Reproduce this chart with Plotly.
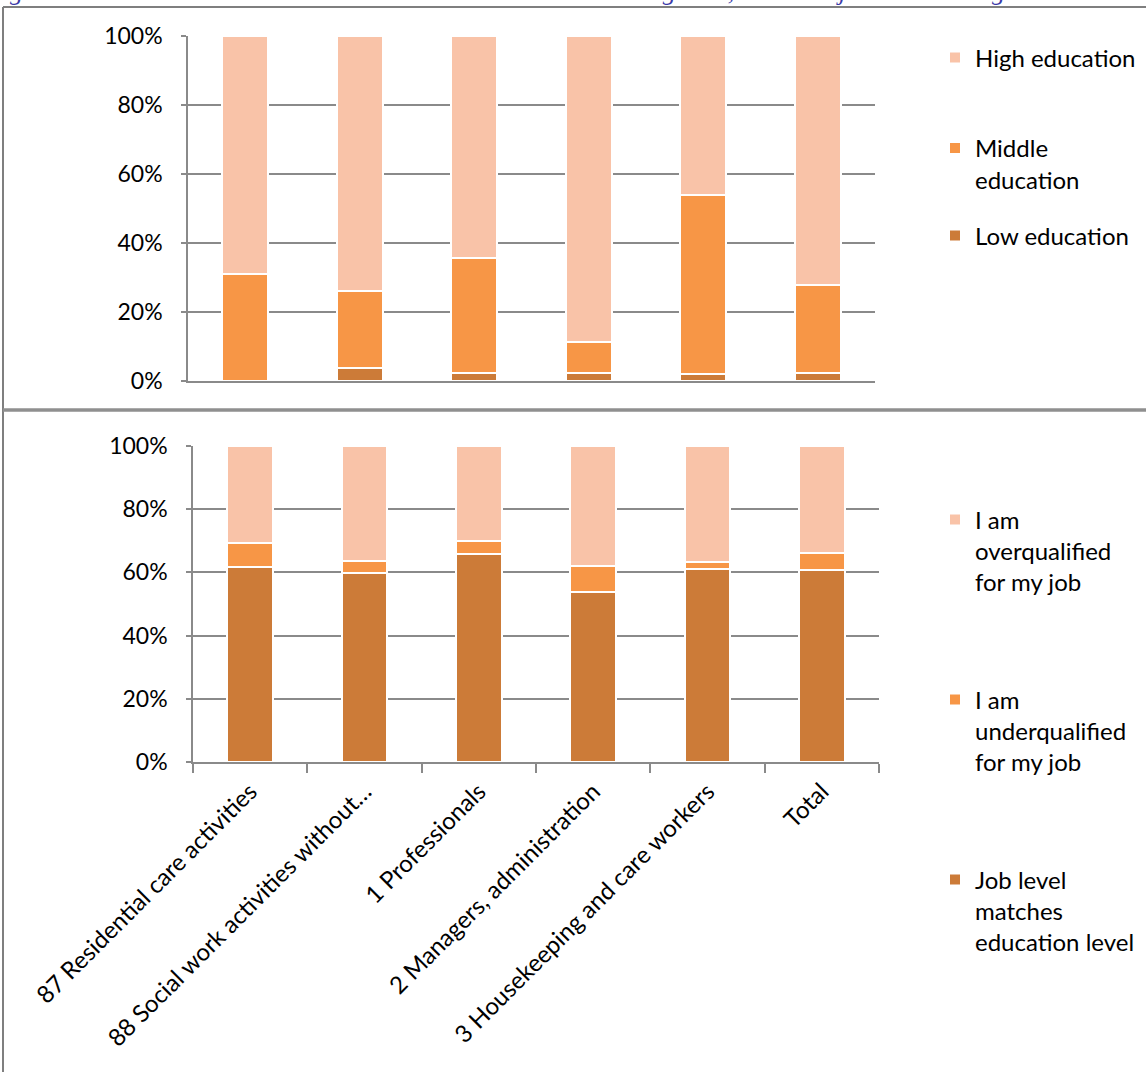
import plotly.graph_objects as go

categories = [
    "87 Residential care activities",
    "88 Social work activities without…",
    "1 Professionals",
    "2 Managers, administration",
    "3 Housekeeping and care workers",
    "Total",
]

# Top panel: education level shares (%)
edu_low = [0.0, 3.7, 2.2, 2.2, 1.9, 2.2]
edu_middle = [30.9, 22.4, 33.4, 9.2, 52.0, 25.7]
edu_high = [69.1, 73.9, 64.4, 88.6, 46.1, 72.1]

# Bottom panel: job match shares (%)
job_match = [61.8, 59.7, 65.9, 53.9, 61.1, 60.7]
job_under = [7.6, 3.8, 4.0, 8.2, 2.3, 5.3]
job_over = [30.6, 36.5, 30.1, 37.9, 36.6, 34.0]

y_tick_vals = [0, 20, 40, 60, 80, 100]
y_tick_text = ["0%", "20%", "40%", "60%", "80%", "100%"]

C_LIGHT = "#F9C3A8"
C_MID = "#F79646"
C_DARK = "#CC7B38"
GRID = "#8A8A8A"
FONT = "Lato"

W, H = 1146, 1073

def px(x):
    return x / W

def py(y):
    return 1 - y / H

fig = go.Figure()

bar_line = dict(color="white", width=2)

# top panel traces
fig.add_trace(go.Bar(x=categories, y=edu_low, name="Low education", marker=dict(color=C_DARK, line=bar_line),
                     xaxis="x", yaxis="y", legend="legend3"))
fig.add_trace(go.Bar(x=categories, y=edu_middle, name="Middle<br>education", marker=dict(color=C_MID, line=bar_line),
                     xaxis="x", yaxis="y", legend="legend2"))
fig.add_trace(go.Bar(x=categories, y=edu_high, name="High education", marker=dict(color=C_LIGHT, line=bar_line),
                     xaxis="x", yaxis="y", legend="legend"))

# bottom panel traces
fig.add_trace(go.Bar(x=categories, y=job_match, name="Job level<br>matches<br>education level",
                     marker=dict(color=C_DARK, line=bar_line), xaxis="x2", yaxis="y2", legend="legend6"))
fig.add_trace(go.Bar(x=categories, y=job_under, name="I am<br>underqualified<br>for my job",
                     marker=dict(color=C_MID, line=bar_line), xaxis="x2", yaxis="y2", legend="legend5"))
fig.add_trace(go.Bar(x=categories, y=job_over, name="I am<br>overqualified<br>for my job",
                     marker=dict(color=C_LIGHT, line=bar_line), xaxis="x2", yaxis="y2", legend="legend4"))

yaxis_common = dict(
    range=[0, 100], tickmode="array", tickvals=y_tick_vals, ticktext=y_tick_text,
    showgrid=True, gridcolor=GRID, gridwidth=2,
    showline=True, linecolor=GRID, linewidth=1.5,
    ticks="outside", ticklen=5, tickcolor=GRID, tickwidth=1.5,
    tickfont=dict(family=FONT, size=23, color="#000000"),
    ticklabelstandoff=14, zeroline=False, fixedrange=True, automargin=False,
)

legend_common = dict(
    font=dict(family=FONT, size=24, color="#000000"),
    bgcolor="rgba(0,0,0,0)", xanchor="left", yanchor="middle",
    valign="top", itemclick=False, itemdoubleclick=False,
)

def leg(x, y):
    d = dict(legend_common)
    d.update(x=px(x), y=py(y))
    return d

LX = 935
fig.update_layout(
    width=W, height=H,
    margin=dict(l=0, r=0, t=0, b=0, autoexpand=False),
    paper_bgcolor="white", plot_bgcolor="white",
    barmode="stack", bargap=0.60,
    xaxis=dict(domain=[px(188), px(875)], anchor="y", showticklabels=False, ticks="",
               showline=True, linecolor=GRID, linewidth=2, showgrid=False, fixedrange=True, automargin=False),
    yaxis=dict(domain=[py(381), py(36)], anchor="x", **yaxis_common),
    xaxis2=dict(domain=[px(193), px(879)], anchor="y2", tickangle=-45,
                tickson="boundaries", ticks="outside", ticklen=9, tickcolor=GRID, tickwidth=1.5,
                showline=True, linecolor=GRID, linewidth=2, showgrid=False, fixedrange=True, automargin=False,
                ticklabelstandoff=4,
                tickfont=dict(family=FONT, size=24, color="#000000")),
    yaxis2=dict(domain=[py(762), py(446)], anchor="x2", **yaxis_common),
    legend=leg(LX, 58),
    legend2=leg(LX, 164),
    legend3=leg(LX, 236),
    legend4=leg(LX, 551),
    legend5=leg(LX, 731),
    legend6=leg(LX, 911),
    showlegend=True,
)

# Frame lines of the document figure box
shapes = [
    dict(type="line", xref="paper", yref="paper", x0=px(3), x1=1.01, y0=py(7), y1=py(7),
         line=dict(color="#7F7F7F", width=2)),
    dict(type="line", xref="paper", yref="paper", x0=px(3), x1=px(3), y0=py(7), y1=py(1072),
         line=dict(color="#7F7F7F", width=2)),
    dict(type="line", xref="paper", yref="paper", x0=px(3), x1=1.01, y0=py(410), y1=py(410),
         line=dict(color="#8F8F8F", width=3.5)),
]
fig.update_layout(shapes=shapes)

# Caption at the very top of the page (cut by the page edge, as in the source)
fig.add_annotation(text="<i>Figure 3</i>", xref="paper", yref="paper", x=px(-16), y=py(8),
                   xanchor="left", yanchor="bottom", showarrow=False,
                   font=dict(family="Liberation Serif", size=26, color="#3A3AA8"))
fig.add_annotation(text="<i>Distribution over three educational categories, and over job match categories</i>",
                   xref="paper", yref="paper", x=px(242), y=py(8),
                   xanchor="left", yanchor="bottom", showarrow=False,
                   font=dict(family="Liberation Serif", size=26, color="#3A3AA8"))

fig.write_html("out.html", config={"displayModeBar": False},
               post_script="document.body.style.margin='0';")
